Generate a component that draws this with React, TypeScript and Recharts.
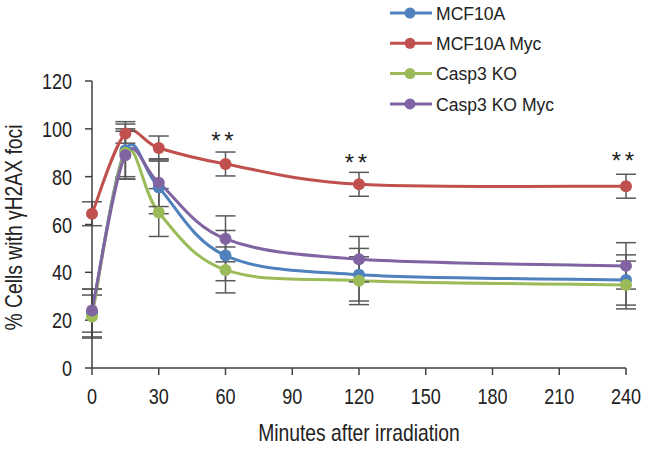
import { LineChart, Line, XAxis, YAxis, ErrorBar, Legend, Scatter } from "recharts";

const minutes = [0, 15, 30, 60, 120, 240];
const seriesNames = ["MCF10A", "MCF10A Myc", "Casp3 KO", "Casp3 KO Myc"];
const seriesColors = ["#4F81BD", "#C0504D", "#9BBB59", "#8064A2"];

const mcf10a = [23, 91, 75.5, 47, 39, 36.8];
const mcf10aErr = [10, 12, 11, 10.5, 11, 10.5];
const mcf10aMyc = [64.5, 98, 92, 85.3, 76.8, 76];
const mcf10aMycErr = [5, 4, 5, 5, 5, 5];
const casp3 = [21.5, 90, 65, 41, 36.5, 34.7];
const casp3Err = [9, 10, 10, 9.6, 10, 10];
const casp3Myc = [24, 89, 77.5, 54, 45.5, 42.7];
const casp3MycErr = [9, 10, 10, 9.6, 9.5, 9.7];

// significance marks above the Myc curve
const sigMinutes = [60, 120, 240];
const sigHeights = [97.5, 88.4, 89];

const xTicks = [0, 30, 60, 90, 120, 150, 180, 210, 240];
const yTicks = [0, 20, 40, 60, 80, 100, 120];

const values = [mcf10a, mcf10aMyc, casp3, casp3Myc];
const errors = [mcf10aErr, mcf10aMycErr, casp3Err, casp3MycErr];

const rows = minutes.map((m, i) => {
  const row: Record<string, number> = { minute: m };
  values.forEach((v, s) => {
    row[`s${s}`] = v[i];
    row[`e${s}`] = errors[s][i];
  });
  return row;
});

const sigRows = sigMinutes.map((m, i) => ({ minute: m, sig: sigHeights[i] }));

const font = "'Liberation Sans', Arial, sans-serif";
const axisColor = "#404040";
const textColor = "#222";
const narrow = 0.82; // the original uses a condensed Helvetica-like face

// Excel-style smoothed line (Catmull-Rom through the points)
function smoothCurve(context: any) {
  let pts: number[][] = [];
  return {
    areaStart() {},
    areaEnd() {},
    lineStart() {
      pts = [];
    },
    point(x: number, y: number) {
      pts.push([+x, +y]);
    },
    lineEnd() {
      if (!pts.length) return;
      context.moveTo(pts[0][0], pts[0][1]);
      for (let i = 0; i < pts.length - 1; i++) {
        const p0 = pts[Math.max(i - 1, 0)];
        const p1 = pts[i];
        const p2 = pts[i + 1];
        const p3 = pts[Math.min(i + 2, pts.length - 1)];
        context.bezierCurveTo(
          p1[0] + (p2[0] - p0[0]) / 6,
          p1[1] + (p2[1] - p0[1]) / 6,
          p2[0] - (p3[0] - p1[0]) / 6,
          p2[1] - (p3[1] - p1[1]) / 6,
          p2[0],
          p2[1]
        );
      }
    },
  };
}

const XTick = (props: any) => {
  const { x, y, payload } = props;
  return (
    <text
      transform={`translate(${x}, ${y + 16}) scale(${narrow}, 1)`}
      textAnchor="middle"
      fontSize={22}
      fontFamily={font}
      fill={textColor}
    >
      {payload.value}
    </text>
  );
};

const YTick = (props: any) => {
  const { x, y, payload } = props;
  return (
    <text
      transform={`translate(${x}, ${y + 8}) scale(${narrow}, 1)`}
      textAnchor="end"
      fontSize={22}
      fontFamily={font}
      fill={textColor}
    >
      {payload.value}
    </text>
  );
};

const renderLegend = () => (
  <svg width={250} height={120}>
    {seriesNames.map((name, i) => (
      <g key={name} transform={`translate(0, ${13 + i * 30.3})`}>
        <line x1={2} x2={44} y1={0} y2={0} stroke={seriesColors[i]} strokeWidth={3} />
        <circle cx={22} cy={0} r={5.5} fill={seriesColors[i]} />
        <text
          transform="translate(48, 6.8) scale(0.95, 1)"
          fontSize={18.5}
          fontFamily={font}
          fill={textColor}
        >
          {name}
        </text>
      </g>
    ))}
  </svg>
);

const renderYLabel = (props: any) => {
  const vb = props.viewBox || {};
  const cx = 14;
  const cy = vb.height ? vb.y + vb.height / 2 + 3 : 227;
  return (
    <text
      transform={`translate(${cx}, ${cy}) rotate(-90) scale(0.84, 1)`}
      textAnchor="middle"
      dominantBaseline="central"
      fontSize={23}
      fontFamily={font}
      fill={textColor}
    >
      % Cells with γH2AX foci
    </text>
  );
};

const renderXLabel = (props: any) => {
  const vb = props.viewBox || {};
  const cx = vb.width ? vb.x + vb.width / 2 : 359;
  return (
    <text
      transform={`translate(${cx}, 441) scale(0.84, 1)`}
      textAnchor="middle"
      fontSize={23}
      fontFamily={font}
      fill={textColor}
    >
      Minutes after irradiation
    </text>
  );
};

const SigMark = (props: any) => (
  <g fontSize={24} fontFamily={font} fill={textColor} textAnchor="middle">
    <text x={props.cx - 9.5} y={props.cy + 14}>*</text>
    <text x={props.cx + 3.5} y={props.cy + 14}>*</text>
  </g>
);

export default function App() {
  return (
    <div style={{ position: "absolute", left: 0, top: 0, background: "#fff" }}>
      <LineChart width={650} height={450} data={rows} margin={{ top: 81, right: 24, bottom: 0, left: 0 }}>
        <XAxis
          dataKey="minute"
          type="number"
          domain={[0, 240]}
          ticks={xTicks}
          stroke={axisColor}
          strokeWidth={1.5}
          tickSize={7}
          tickMargin={13}
          height={82}
          tick={<XTick />}
          label={renderXLabel}
        />
        <YAxis
          type="number"
          domain={[0, 120]}
          ticks={yTicks}
          stroke={axisColor}
          strokeWidth={1.5}
          tickSize={7}
          tickMargin={13}
          width={92}
          tick={<YTick />}
          label={renderYLabel}
        />
        <Legend
          layout="vertical"
          align="center"
          verticalAlign="middle"
          wrapperStyle={{ left: 388, top: 0, width: 250, height: 120 }}
          content={renderLegend}
        />
        {seriesNames.map((name, s) => (
          <Line
            key={name}
            name={name}
            dataKey={`s${s}`}
            type={smoothCurve as any}
            stroke={seriesColors[s]}
            strokeWidth={3}
            dot={{ r: 6, fill: seriesColors[s], stroke: seriesColors[s], strokeWidth: 0 }}
            activeDot={false}
            isAnimationActive={false}
          >
            <ErrorBar dataKey={`e${s}`} direction="y" width={10} stroke="#595959" strokeWidth={1.5} />
          </Line>
        ))}
        <Scatter data={sigRows} dataKey="sig" shape={<SigMark />} isAnimationActive={false} legendType="none" />
      </LineChart>
    </div>
  );
}
